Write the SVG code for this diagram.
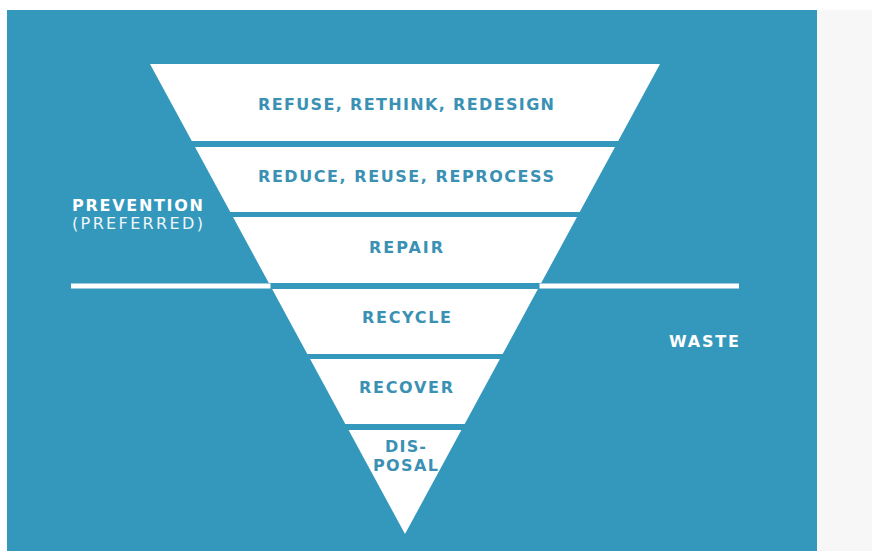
<svg xmlns="http://www.w3.org/2000/svg" width="872" height="551" viewBox="0 0 872 551">
  <style>
    .band { fill: #ffffff; }
    .lbl { font-family: "DejaVu Sans", "Liberation Sans", sans-serif; font-weight: bold; font-size: 16px; fill: #3a91b3; }
    .side { font-family: "DejaVu Sans", "Liberation Sans", sans-serif; font-weight: bold; font-size: 16px; fill: #ffffff; }
    .sub { font-family: "DejaVu Sans", "Liberation Sans", sans-serif; font-weight: normal; font-size: 16px; fill: #eef6f9; }
    .rule { fill: #ffffff; }
  </style>
  <!-- page and panel -->
  <rect x="0" y="0" width="872" height="551" fill="#ffffff"/>
  <rect x="817" y="10" width="55" height="541" fill="#f7f7f7"/>
  <rect x="7" y="10" width="810" height="541" fill="#3498bd"/>

  <!-- divider between prevention and waste -->
  <g id="divider">
    <rect class="rule" x="71" y="283.5" width="199.5" height="5"/>
    <rect class="rule" x="539.5" y="283.5" width="199.5" height="5"/>
  </g>

  <!-- hierarchy levels -->
  <g id="refuse">
    <polygon class="band" points="150,64 660,64 618.2,141 191.8,141"/>
    <text class="lbl" x="258" y="110" textLength="296" lengthAdjust="spacing">REFUSE, RETHINK, REDESIGN</text>
  </g>
  <g id="reduce">
    <polygon class="band" points="195,147 615,147 579.7,212 230.3,212"/>
    <text class="lbl" x="258" y="182" textLength="296" lengthAdjust="spacing">REDUCE, REUSE, REPROCESS</text>
  </g>
  <g id="repair">
    <polygon class="band" points="233,217 577,217 541.2,283 268.8,283"/>
    <text class="lbl" x="369" y="252.5" textLength="74" lengthAdjust="spacing">REPAIR</text>
  </g>
  <g id="recycle">
    <polygon class="band" points="272.1,289 537.9,289 502.7,354 307.3,354"/>
    <text class="lbl" x="362" y="322.5" textLength="89" lengthAdjust="spacing">RECYCLE</text>
  </g>
  <g id="recover">
    <polygon class="band" points="310.1,359 499.9,359 464.7,424 345.3,424"/>
    <text class="lbl" x="359" y="393.3" textLength="94" lengthAdjust="spacing">RECOVER</text>
  </g>
  <g id="disposal">
    <polygon class="band" points="348.6,430 461.4,430 405,534"/>
    <text class="lbl" x="385" y="452.3" textLength="41" lengthAdjust="spacing">DIS-</text>
    <text class="lbl" x="373" y="470.7" textLength="65" lengthAdjust="spacing">POSAL</text>
  </g>

  <!-- side labels -->
  <g id="prevention">
    <text class="side" x="72" y="210.5" textLength="131" lengthAdjust="spacing">PREVENTION</text>
    <text class="sub" x="72" y="229" textLength="131" lengthAdjust="spacing">(PREFERRED)</text>
  </g>
  <g id="waste">
    <text class="side" x="669" y="346.7" textLength="70" lengthAdjust="spacing">WASTE</text>
  </g>
</svg>
